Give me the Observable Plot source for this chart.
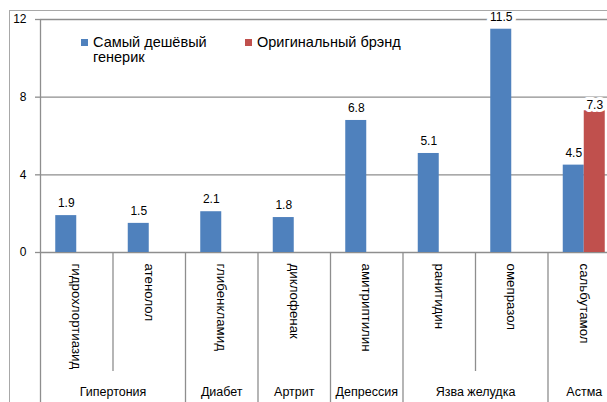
<!DOCTYPE html>
<html><head><meta charset="utf-8">
<script src="https://cdn.jsdelivr.net/npm/d3@7"></script>
<script src="https://cdn.jsdelivr.net/npm/@observablehq/plot@0.6"></script>
<style>
body{margin:0;background:#fff;font-family:"Liberation Sans",Arial,sans-serif;}
#wrap{position:relative;width:607px;height:402px;overflow:hidden;background:#fff;}
#frame{position:absolute;left:9px;top:10px;width:700px;height:500px;border:1.5px solid #a8a8a8;box-sizing:border-box;pointer-events:none;}
.lg{position:absolute;font-size:14.5px;line-height:15px;color:#000;white-space:nowrap;}
.sw{position:absolute;width:7px;height:7px;}
</style></head><body><div id="wrap"></div>
<script>
// ---- data ----
const drugs = ["гидрохлортиазид","атенолол","глибенкламид","диклофенак","амитриптилин","ранитидин","омепразол","сальбутамол"];
const groups = ["Гипертония","Гипертония","Диабет","Артрит","Депрессия","Язва желудка","Язва желудка","Астма"];
const generic = [1.9, 1.5, 2.1, 1.8, 6.8, 5.1, 11.5, 4.5];
const brand = [null, null, null, null, null, null, null, 7.3];
const seriesNames = ["Самый дешёвый генерик", "Оригинальный брэнд"];
const seriesColors = ["#4F81BD", "#C0504D"];
const yTicks = [0, 4, 8, 12];

// ---- layout ----
const W = 607, H = 402;
const x0 = 40, slotW = 72.5;
const yBase = 252, yTop = 19;
const pxPerUnit = (yBase - yTop) / 12;
const yv = px => (yBase - px) / pxPerUnit;   // pixel -> data units
const barFrac = 21 / slotW;
const gridColor = "#8e8e8e";

const rows = drugs.map((d, i) => ({drug: d, group: groups[i], i, generic: generic[i], brand: brand[i]}));

// group spans
const spans = [];
groups.forEach((g, i) => {
  if (spans.length && spans[spans.length - 1].name === g) spans[spans.length - 1].end = i + 1;
  else spans.push({name: g, start: i, end: i + 1});
});
const seps = [];
for (let k = 1; k <= drugs.length; k++) {
  const full = k === drugs.length || groups[k] !== groups[k - 1];
  seps.push({k, full});
}

const chart = Plot.plot({
  width: W, height: H,
  marginLeft: x0, marginTop: yTop, marginRight: 0, marginBottom: H - yBase,
  style: {fontFamily: "Liberation Sans, Arial, sans-serif", fontSize: "12px", color: "#000", background: "transparent", overflow: "hidden"},
  x: {type: "linear", domain: [0, drugs.length], range: [x0, x0 + slotW * drugs.length], axis: null},
  y: {domain: [0, 12], range: [yBase, yTop], axis: null},
  marks: [
    Plot.ruleY(yTicks, {stroke: gridColor, strokeWidth: 1.3}),
    Plot.axisY(yTicks, {tickSize: 5, tickPadding: 9, stroke: gridColor, strokeWidth: 1.3, fill: "#000", fontSize: 12, label: null}),
    // y axis line & first separator
    Plot.ruleX([0], {y1: 12, y2: yv(H), stroke: gridColor, strokeWidth: 1.3}),
    Plot.ruleX(seps, {x: "k", y1: 0, y2: d => d.full ? yv(H) : yv(371), stroke: gridColor, strokeWidth: 1.3}),
    // generic bars
    Plot.rectY(rows, {x1: d => d.i + 0.5 - barFrac, x2: d => d.i + 0.5, y: "generic", fill: seriesColors[0]}),
    Plot.text(rows, {x: d => d.i + 0.5 - barFrac / 2, y: "generic", text: d => d.generic.toFixed(1), dy: -8.5, lineAnchor: "bottom", fontSize: 12, fill: "#000", stroke: "white", strokeWidth: 8}),
    // brand bars
    Plot.rectY(rows.filter(d => d.brand != null), {x1: d => d.i + 0.5, x2: d => d.i + 0.5 + barFrac, y: "brand", fill: seriesColors[1]}),
    Plot.text(rows.filter(d => d.brand != null), {x: d => d.i + 0.5 + barFrac / 2, y: "brand", text: d => d.brand.toFixed(1), dy: -1.5, lineAnchor: "bottom", fontSize: 12, fill: "#000", stroke: "white", strokeWidth: 6}),
    // category labels
    Plot.text(rows, {x: d => d.i + 0.5, y: yv(263), text: "drug", rotate: 90, textAnchor: "start", lineAnchor: "middle", fontSize: 13.3, fill: "#000"}),
    Plot.text(spans, {x: d => (d.start + d.end) / 2, y: yv(391.5), text: "name", lineAnchor: "middle", fontSize: 12.5, fill: "#000"})
  ]
});

const wrap = document.getElementById("wrap");
wrap.appendChild(chart);
const frame = document.createElement("div"); frame.id = "frame"; wrap.appendChild(frame);

// legend (inside plot area)
const legendPos = [{sx: 81, tx: 93}, {sx: 245, tx: 257}];
const legendTexts = [["Самый дешёвый", "генерик"], ["Оригинальный брэнд"]];
seriesNames.forEach((n, k) => {
  const sw = document.createElement("div");
  sw.className = "sw"; sw.style.left = legendPos[k].sx + "px"; sw.style.top = "39px"; sw.style.background = seriesColors[k];
  wrap.appendChild(sw);
  const t = document.createElement("div");
  t.className = "lg"; t.style.left = legendPos[k].tx + "px"; t.style.top = "35px";
  t.innerHTML = legendTexts[k].join("<br>");
  t.title = n;
  wrap.appendChild(t);
});
</script></body></html>
